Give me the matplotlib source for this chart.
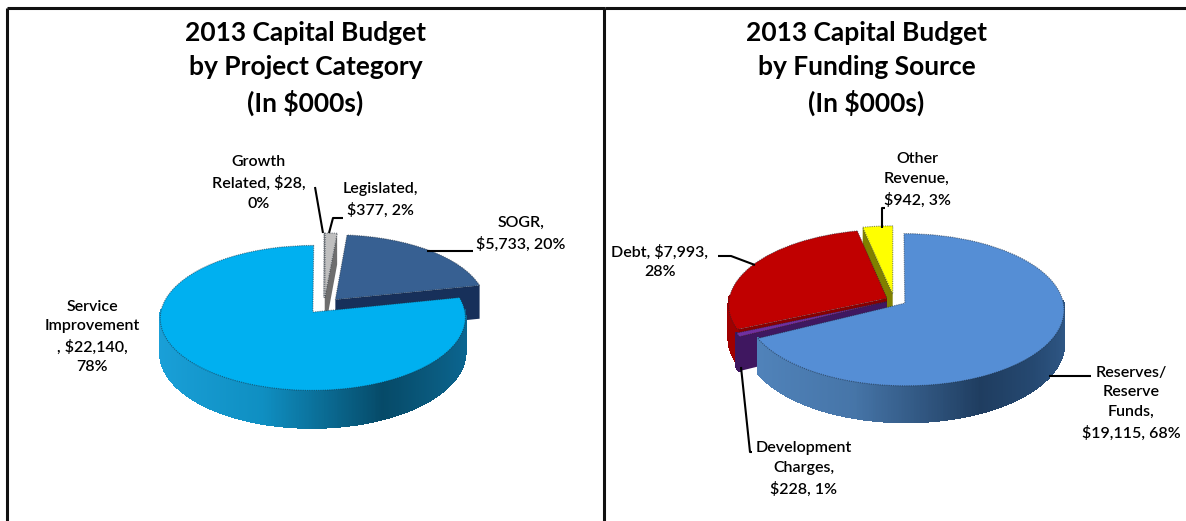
import numpy as np
import matplotlib
matplotlib.use("Agg")
import matplotlib.pyplot as plt
from matplotlib.collections import PolyCollection
from matplotlib.colors import LinearSegmentedColormap
from matplotlib.patches import Polygon
from matplotlib.transforms import Transform

plt.rcParams["font.family"] = ["Lato", "DejaVu Sans"]

W, H = 1186, 521

# Budget figures in $000s, listed counter-clockwise from twelve o'clock
category_values = [22140, 5733, 377, 28]
category_labels = ["Service\nImprovement\n, $22,140,\n78%", "SOGR,\n$5,733, 20%",
                   "Legislated,\n$377, 2%", "Growth\nRelated, $28,\n0%"]
funding_values = [942, 7993, 228, 19115]
funding_labels = ["Other\nRevenue,\n$942, 3%", "Debt, $7,993,\n28%",
                  "Development\nCharges,\n$228, 1%", "Reserves/\nReserve\nFunds,\n$19,115, 68%"]
category_title = "2013 Capital Budget\nby Project Category\n(In $000s)"
funding_title = "2013 Capital Budget\nby Funding Source\n(In $000s)"


class TiltedDisc(Transform):
    """Projects the unit pie plane to pixels, with perspective."""
    input_dims = output_dims = 2

    def __init__(self, cx, cy, a, b, k):
        super().__init__()
        self.p = (cx, cy, a, b, k)

    def scale(self, v):
        return 1 / (1 + self.p[4] * v)

    def transform_non_affine(self, values):
        cx, cy, a, b, k = self.p
        values = np.asarray(values, float)
        u, v = values[:, 0], values[:, 1]
        s = self.scale(v)
        return np.column_stack([cx + a * u * s, cy - b * v * s])


def draw_pie(ax, values, tilt, depth, explode, tops, faces, walls, layer_order):
    wedges, _ = ax.pie(values, startangle=90, explode=explode, colors=tops, frame=True)
    tr = TiltedDisc(*tilt)
    data = tr + ax.transData
    for i, w in enumerate(wedges):
        base = 10 * (layer_order.index(i) + 1)
        c = np.array(w.center)
        w.set_transform(data)
        w.set_zorder(base + 3)
        w.set_edgecolor((0.1, 0.15, 0.2, 0.55))
        w.set_linewidth(0.8)
        w.set_linestyle((0, (1, 1)))

        t1, t2 = w.theta1, w.theta2

        # Cut faces along both straight edges of the slice
        for ang, normal in ((t1, t1 - 90), (t2, t2 + 90)):
            if np.sin(np.radians(normal)) < -0.02:
                edge = c + np.array([[0, 0], [np.cos(np.radians(ang)), np.sin(np.radians(ang))]])
                pts = tr.transform_non_affine(edge)
                s = tr.scale(edge[:, 1])
                low = pts + np.column_stack([0 * s, depth * s])
                ax.add_patch(Polygon(np.vstack([pts, low[::-1]]), closed=True, fc=faces[i],
                                     ec="none", zorder=base + 1))

        # Outer rim on the near half of the disc, shaded strip by strip
        ang = np.radians(np.arange(t1, t2 + 0.25, 0.5))
        ang = ang[np.sin(ang) < 0.03]
        if len(ang) > 1 and walls[i] is not None:
            rim = c + np.column_stack([np.cos(ang), np.sin(ang)])
            pts = tr.transform_non_affine(rim)
            s = tr.scale(rim[:, 1])
            low = pts + np.column_stack([0 * s, depth * s])
            quads = [[pts[j], pts[j + 1], low[j + 1], low[j]] for j in range(len(ang) - 1)]
            pos = (np.cos(ang[:-1]) + 1) / 2
            cm = LinearSegmentedColormap.from_list("rim", walls[i])
            ax.add_collection(PolyCollection(quads, facecolors=cm(pos), edgecolors=cm(pos),
                                             linewidths=1.0, antialiased=False, zorder=base + 2))
    return wedges


fig = plt.figure(figsize=(W / 100, H / 100), dpi=100)
axL = fig.add_axes([0, 0, 605 / W, 1])
axR = fig.add_axes([605 / W, 0, (W - 605) / W, 1])

draw_pie(axL, category_values,
         tilt=(323.9, 305.7, 151, 71, 0.08), depth=34, explode=[0.115] * 4,
         tops=["#00B0F0", "#376092", "#BFBFBF", "#8C8C8C"],
         faces=["#0A5F85", "#17305A", "#6E6E6E", "#555555"],
         walls=[[(0, "#1AA0D8"), (0.35, "#0F8FC2"), (0.72, "#064A68"), (0.88, "#0A5A7E"),
                 (1, "#0B6590")], None, None, None],
         layer_order=[3, 2, 1, 0])

draw_pie(axR, funding_values,
         tilt=(894, 300, 158, 75, 0.086), depth=33, explode=[0.08, 0.05, 0.05, 0.08],
         tops=["#FFFF00", "#C00000", "#7030A0", "#558ED5"],
         faces=["#808000", "#8A0000", "#3F1760", "#2F5A88"],
         walls=[None, ["#A00000", "#A00000"], ["#3F1760", "#3F1760"],
                [(0, "#5285BD"), (0.35, "#4675A8"), (0.72, "#1F3D60"), (0.88, "#254870"),
                 (1, "#2E5684")]],
         layer_order=[0, 1, 2, 3])

for ax, lim in ((axL, (0, 605)), (axR, (605, W))):
    ax.set_aspect("auto")
    ax.set_xlim(*lim)
    ax.set_ylim(H, 0)
    ax.axis("off")

label_style = dict(ha="center", va="center", fontsize=11.5, color="black",
                   fontweight="semibold", linespacing=1.52, zorder=100)
title_style = dict(ha="center", va="center", fontsize=19, color="black",
                   fontweight="bold", linespacing=1.5, zorder=100)

axL.text(305.5, 68.5, category_title, **title_style)
axR.text(866.5, 68.5, funding_title, **title_style)

axL.text(92, 337, category_labels[0], **label_style)
axL.text(521, 234, category_labels[1], **label_style)
axL.text(380, 200, category_labels[2], **label_style)
axL.text(259, 183, category_labels[3], **label_style)

axR.text(917, 180, funding_labels[0], **label_style)
axR.text(660, 262, funding_labels[1], **label_style)
axR.text(804, 469, funding_labels[2], **label_style)
axR.text(1131, 403, funding_labels[3], **label_style)

# Leader lines from labels to slices
leader = dict(color="black", lw=1.5, zorder=90, solid_capstyle="butt")
axL.plot([315, 323], [187, 233], **leader)
axL.plot([343, 333, 329], [218, 218, 233], **leader)
axL.plot([473, 427], [251, 251], **leader)
axR.plot([885, 882, 882], [208, 208, 228], **leader)
axR.plot([718, 731, 755], [256, 256, 265], **leader)
axR.plot([1091, 1049], [376, 376], **leader)
axR.plot([752, 750, 741], [452, 452, 367], **leader)

# Panel frame
frame = dict(color="#111111", lw=2.2, zorder=120, solid_capstyle="butt", clip_on=False)
axL.plot([7, 7], [521, 7.5], **frame)
axL.plot([7, 605], [7.5, 7.5], **frame)
axR.plot([605, W], [7.5, 7.5], **frame)
axL.plot([604, 604], [7.5, 521], **frame)

fig.savefig("out.png", dpi=100, facecolor="white")
